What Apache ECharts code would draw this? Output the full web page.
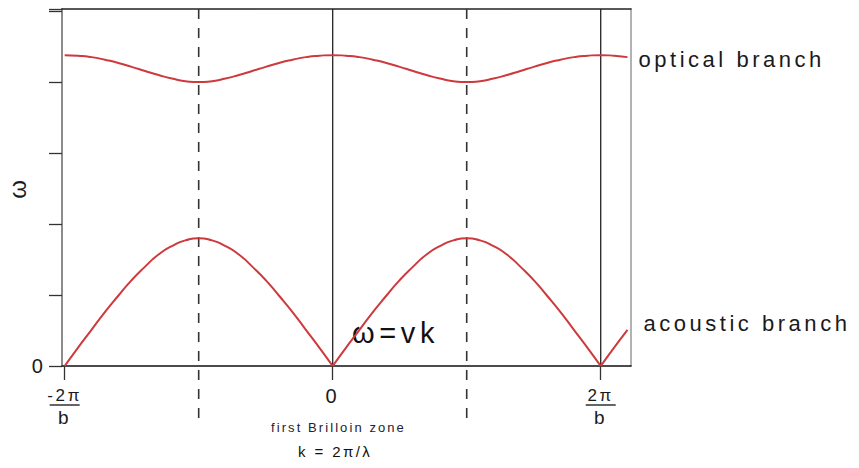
<!DOCTYPE html>
<html>
<head>
<meta charset="utf-8">
<script src="https://cdn.jsdelivr.net/npm/echarts@6/dist/echarts.min.js"></script>
<style>
  html, body { margin: 0; padding: 0; background: #ffffff; }
  #chart { width: 859px; height: 468px; }
  #chart text { letter-spacing: 0.16em; }
</style>
</head>
<body>
<div id="chart"></div>
<script>
// Wave number k, in units of π/b
const waveNumber = [
  -2.0, -1.9, -1.8, -1.7, -1.6, -1.5, -1.4, -1.3, -1.2, -1.1,
  -1.0, -0.9, -0.8, -0.7, -0.6, -0.5, -0.4, -0.3, -0.2, -0.1,
   0.0,  0.1,  0.2,  0.3,  0.4,  0.5,  0.6,  0.7,  0.8,  0.9,
   1.0,  1.1,  1.2,  1.3,  1.4,  1.5,  1.6,  1.7,  1.8,  1.9,
   2.0,  2.1,  2.2
];

// Frequency of the acoustic branch
const acousticOmega = [
  0.00, 0.26, 0.51, 0.76, 0.99, 1.21, 1.40, 1.57, 1.69, 1.77,
  1.80, 1.77, 1.69, 1.57, 1.40, 1.21, 0.99, 0.76, 0.51, 0.26,
  0.00, 0.26, 0.51, 0.76, 0.99, 1.21, 1.40, 1.57, 1.69, 1.77,
  1.80, 1.77, 1.69, 1.57, 1.40, 1.21, 0.99, 0.76, 0.51, 0.26,
  0.00, 0.26, 0.51
];

// Frequency of the optical branch
const opticalOmega = [
  4.38, 4.372, 4.352, 4.315, 4.27, 4.215, 4.157, 4.10, 4.05, 4.013,
  4.00, 4.013, 4.05, 4.10, 4.157, 4.215, 4.27, 4.315, 4.352, 4.372,
  4.38, 4.372, 4.352, 4.315, 4.27, 4.215, 4.157, 4.10, 4.05, 4.013,
  4.00, 4.013, 4.05, 4.10, 4.157, 4.215, 4.27, 4.315, 4.352, 4.372,
  4.38, 4.372, 4.352
];

// x-axis tick positions and their fraction labels
const tickValues = [-2, 0, 2];
const tickNumerators = ['-2π', '0', '2π'];
const tickDenominators = ['b', '', 'b'];

// Vertical guides: zone boundaries (dashed) and reciprocal lattice points (solid)
const zoneBoundaries = [-1, 1];
const latticePoints = [0, 2];

const X_MIN = -2.02, X_MAX = 2.226;
const Y_MIN = 0, Y_MAX = 5.03;
const RED = '#cc3a3e';
const INK = '#1a1a1a';
const FONT = '"Liberation Sans", Arial, Helvetica, sans-serif';

const chart = echarts.init(document.getElementById('chart'), null, { renderer: 'svg' });

// The acoustic branch has cusps at ω = 0; each arch is drawn as its own smooth piece
const acousticArcs = [];
let arc = [];
waveNumber.forEach((k, i) => {
  arc.push([k, acousticOmega[i]]);
  if (acousticOmega[i] === 0 && arc.length > 1) {
    acousticArcs.push(arc);
    arc = [[k, acousticOmega[i]]];
  }
});
if (arc.length > 1) acousticArcs.push(arc);

const guideData = zoneBoundaries.map(k => [k, 1]).concat(latticePoints.map(k => [k, 0]));

const series = [
  {
    type: 'custom',
    z: 1,
    silent: true,
    clip: false,
    data: guideData,
    encode: { x: 0 },
    renderItem(params, api) {
      const k = api.value(0);
      const dashed = api.value(1) === 1;
      const top = api.coord([k, Y_MAX]);
      const base = api.coord([k, Y_MIN]);
      return {
        type: 'line',
        shape: { x1: top[0], y1: top[1], x2: base[0], y2: base[1] + (dashed ? 55 : 0) },
        style: {
          stroke: dashed ? '#333333' : '#222222',
          lineWidth: dashed ? 1.6 : 1.3,
          lineDash: dashed ? [10, 9] : null
        }
      };
    }
  },
  {
    name: 'optical branch',
    type: 'line',
    z: 3,
    smooth: 0.6,
    symbol: 'none',
    data: waveNumber.map((k, i) => [k, opticalOmega[i]]),
    lineStyle: { color: RED, width: 2 },
    endLabel: {
      show: true,
      formatter: 'optical branch',
      fontFamily: FONT,
      fontSize: 22,
      color: INK,
      distance: 11,
      offset: [0, 2]
    }
  }
];

acousticArcs.forEach((pts, idx) => {
  const last = idx === acousticArcs.length - 1;
  series.push({
    name: 'acoustic branch',
    type: 'line',
    z: 3,
    smooth: 0.6,
    symbol: 'none',
    data: pts,
    lineStyle: { color: RED, width: 2 },
    endLabel: last ? {
      show: true,
      formatter: 'acoustic branch',
      fontFamily: FONT,
      fontSize: 22,
      color: INK,
      distance: 16,
      offset: [0, -6]
    } : { show: false }
  });
});

chart.setOption({
  animation: false,
  backgroundColor: '#ffffff',
  textStyle: { fontFamily: FONT },
  grid: {
    left: 62, right: 228, top: 9, bottom: 102,
    containLabel: false,
    outerBoundsMode: 'none'
  },
  xAxis: [
    {
      type: 'value',
      min: X_MIN,
      max: X_MAX,
      axisLine: { onZero: false, lineStyle: { color: '#111111', width: 1.5 } },
      axisTick: {
        show: true,
        customValues: tickValues,
        length: 14,
        lineStyle: { color: '#333333', width: 1.3 }
      },
      axisLabel: {
        customValues: tickValues,
        margin: 22,
        verticalAlign: 'top',
        formatter(v) {
          const i = tickValues.indexOf(v);
          if (i < 0) return '';
          if (!tickDenominators[i]) return '{z|' + tickNumerators[i] + '}';
          return '{n|' + tickNumerators[i] + '}\n{bar|}\n{d|' + tickDenominators[i] + '}';
        },
        rich: {
          z: { fontSize: 20, lineHeight: 16, color: INK, fontFamily: FONT },
          n: { fontSize: 17, lineHeight: 15, color: INK, fontFamily: FONT },
          bar: { width: 30, height: 1.3, lineHeight: 4, backgroundColor: '#111111' },
          d: { fontSize: 19, lineHeight: 21, color: INK, fontFamily: FONT }
        }
      },
      splitLine: { show: false }
    },
    {
      type: 'value',
      position: 'top',
      min: X_MIN,
      max: X_MAX,
      axisLine: { show: true, onZero: false, lineStyle: { color: '#222222', width: 1.5 } },
      axisTick: { show: false },
      axisLabel: { show: false },
      splitLine: { show: false }
    }
  ],
  yAxis: [
    {
      type: 'value',
      min: Y_MIN,
      max: Y_MAX,
      interval: 1,
      name: 'ω',
      nameLocation: 'middle',
      nameRotate: 90,
      nameGap: 33,
      nameMoveOverlap: false,
      nameTextStyle: { fontSize: 24, color: INK, fontFamily: FONT },
      axisLine: { show: true, onZero: false, lineStyle: { color: '#8c8c8c', width: 2 } },
      axisTick: { show: true, length: 13, lineStyle: { color: '#333333', width: 1.3 } },
      axisLabel: {
        margin: 16,
        fontSize: 20,
        color: INK,
        formatter: v => (v === 0 ? '0' : '')
      },
      splitLine: { show: false }
    },
    {
      type: 'value',
      position: 'right',
      min: Y_MIN,
      max: Y_MAX,
      axisLine: { show: true, onZero: false, lineStyle: { color: '#999999', width: 1.5 } },
      axisTick: { show: false },
      axisLabel: { show: false },
      splitLine: { show: false }
    }
  ],
  graphic: [
    {
      type: 'text',
      left: 352,
      top: 318,
      style: { text: 'ω=vk', font: '29px ' + FONT, fill: '#111111' }
    },
    {
      type: 'text',
      left: 271,
      top: 421,
      style: { text: 'first Brilloin zone', font: '13px ' + FONT, fill: '#222233' }
    },
    {
      type: 'text',
      left: 298,
      top: 444,
      style: { text: 'k = 2π/λ', font: '15px ' + FONT, fill: '#111111' }
    }
  ],
  series: series
});
</script>
</body>
</html>
